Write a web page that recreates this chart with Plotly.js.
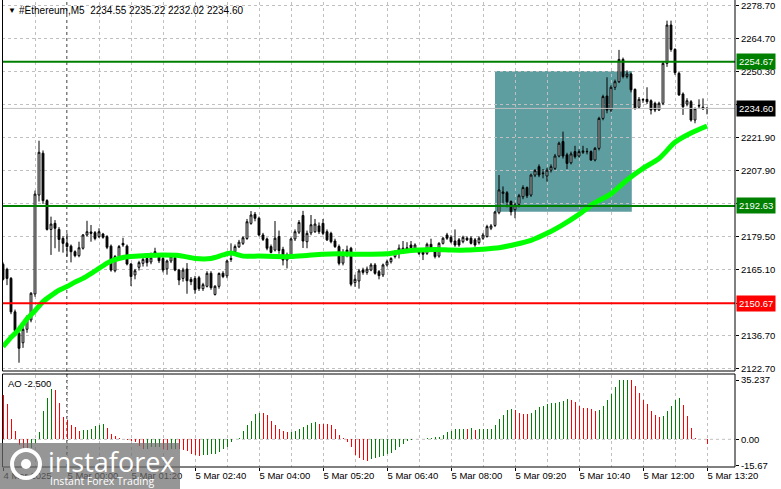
<!DOCTYPE html>
<html><head><meta charset="utf-8">
<script src="https://cdn.plot.ly/plotly-3.0.1.min.js"></script>
<style>html,body{margin:0;padding:0;background:#fff;}#chart{width:781px;height:489px;}</style>
</head><body><div id="chart"></div>
<script>
// ---- data (bar index 0 = 4 Mar 22:40, M5 bars) ----
const openP = [2167.5,2165.3,2161.4,2147.0,2137.8,2133.7,2139.5,2143.5,2154.7,2197.3,2215.3,2194.9,2182.5,2185.1,2182.5,2178.6,2176.5,2175.3,2172.9,2171.2,
2174.4,2180.1,2181.4,2181.1,2179.4,2180.5,2179.4,2175.3,2164.7,2170.8,2176.5,2175.3,2167.6,2162.9,2166.2,2167.9,2170.0,2168.5,2172.9,2171.0,
2170.0,2165.5,2168.9,2170.3,2165.0,2161.4,2165.4,2161.0,2161.4,2161.7,2157.0,2158.0,2163.6,2154.5,2158.0,2163.6,2162.5,2170.0,2172.9,2175.0,
2176.5,2178.6,2185.1,2189.0,2187.3,2180.1,2178.4,2175.1,2173.6,2179.4,2173.9,2169.3,2171.2,2178.4,2181.3,2188.5,2177.2,2181.0,2181.5,2184.0,
2185.1,2181.5,2180.8,2177.5,2175.1,2168.0,2173.6,2174.4,2159.6,2160.3,2165.0,2164.0,2165.0,2167.2,2164.3,2162.9,2167.2,2168.6,2170.8,2172.5,
2172.6,2174.6,2175.8,2174.4,2173.6,2172.9,2172.2,2176.1,2172.9,2171.0,2176.5,2180.1,2179.1,2177.5,2178.0,2177.2,2178.7,2178.7,2178.0,2176.8,
2178.7,2179.4,2183.0,2184.2,2189.7,2198.0,2198.3,2194.5,2191.0,2193.3,2196.6,2200.5,2197.3,2205.9,2209.5,2206.5,2205.5,2208.0,2208.8,2214.1,
2220.3,2214.6,2211.2,2216.0,2214.1,2215.7,2216.1,2216.0,2212.4,2217.4,2230.3,2239.9,2233.9,2243.7,2246.1,2255.7,2248.3,2249.4,2242.8,2235.1,
2238.2,2238.5,2237.9,2236.8,2233.9,2236.8,2254.0,2270.5,2260.0,2249.7,2240.8,2236.5,2237.5,2229.6,2235.6,2235.1,2234.55];
const highP = [2168.3,2166.0,2162.0,2148.0,2139.0,2140.5,2145.5,2155.5,2199.2,2220.7,2216.5,2195.5,2188.0,2186.5,2183.5,2179.5,2180.8,2176.0,2173.5,2177.2,
2180.5,2186.2,2184.4,2181.8,2183.0,2181.0,2180.0,2176.0,2171.5,2175.8,2178.9,2176.0,2168.0,2165.5,2169.0,2170.8,2171.0,2172.5,2174.6,2172.0,
2171.0,2169.5,2171.5,2171.0,2165.5,2166.0,2168.0,2162.0,2162.5,2162.5,2159.5,2164.5,2164.5,2158.5,2164.0,2164.5,2169.5,2176.5,2176.0,2178.0,
2179.5,2187.0,2190.4,2190.0,2188.0,2181.0,2179.0,2176.0,2186.1,2182.0,2175.0,2172.5,2179.0,2182.5,2186.5,2190.5,2182.0,2188.7,2187.0,2185.5,
2187.0,2182.5,2181.5,2178.5,2176.0,2174.0,2175.5,2175.0,2163.0,2165.5,2166.0,2166.5,2168.0,2168.0,2165.0,2167.8,2169.5,2170.5,2173.5,2176.0,
2177.5,2177.0,2177.5,2176.5,2174.5,2173.5,2176.8,2178.5,2173.5,2177.0,2179.2,2181.0,2180.0,2182.5,2178.8,2179.8,2179.5,2179.5,2178.8,2179.5,
2181.0,2184.5,2184.8,2190.5,2205.9,2201.0,2199.0,2195.0,2194.0,2197.8,2201.5,2201.0,2206.5,2208.5,2210.5,2208.5,2209.0,2210.5,2215.0,2220.3,
2224.6,2215.5,2216.0,2218.5,2217.0,2218.5,2217.5,2216.5,2218.0,2231.0,2240.5,2248.0,2244.5,2247.0,2259.8,2256.5,2251.0,2250.0,2243.2,2239.5,
2239.0,2243.7,2238.5,2237.5,2237.5,2255.0,2272.4,2272.4,2260.5,2250.5,2241.5,2239.0,2238.2,2235.0,2238.5,2238.9,2235.22];
const lowP = [2160.5,2158.5,2146.0,2136.5,2125.1,2131.5,2138.0,2142.5,2153.5,2194.5,2193.5,2182.0,2171.5,2174.4,2172.9,2172.5,2170.8,2168.3,2170.5,2170.5,
2173.8,2179.5,2177.2,2177.8,2178.8,2178.5,2174.0,2164.3,2164.0,2170.0,2175.0,2167.0,2158.1,2161.0,2164.8,2166.5,2166.5,2167.5,2170.5,2168.0,
2164.0,2163.0,2168.0,2164.5,2158.5,2160.0,2154.8,2158.5,2154.8,2156.0,2156.0,2157.5,2156.5,2154.0,2157.0,2161.5,2161.5,2168.5,2172.0,2174.5,
2175.8,2178.0,2184.5,2186.0,2179.5,2177.5,2173.5,2172.2,2173.0,2172.0,2167.0,2165.7,2170.5,2177.5,2180.5,2174.5,2174.4,2180.0,2181.0,2180.5,
2180.0,2177.5,2176.5,2174.5,2167.0,2167.0,2170.5,2158.0,2157.8,2157.0,2163.0,2163.0,2164.5,2163.0,2161.0,2162.0,2166.5,2167.8,2170.0,2170.0,
2172.0,2172.5,2174.0,2173.5,2171.5,2169.3,2171.5,2173.8,2170.0,2170.3,2176.0,2178.0,2176.5,2175.0,2175.0,2176.5,2177.5,2176.0,2175.0,2176.0,
2178.0,2179.0,2182.2,2183.5,2189.0,2193.7,2192.0,2188.5,2187.3,2192.0,2195.5,2196.0,2196.5,2205.0,2205.0,2204.5,2203.1,2207.0,2208.0,2213.5,
2213.0,2208.5,2210.5,2213.0,2213.5,2215.0,2214.8,2212.0,2211.8,2216.5,2229.5,2232.5,2233.0,2242.5,2245.5,2247.5,2247.5,2241.5,2234.0,2234.5,
2237.0,2236.5,2232.0,2233.0,2233.5,2236.0,2252.5,2259.0,2249.0,2240.0,2231.8,2235.5,2228.9,2228.2,2234.5,2234.0,2232.02];
const closeP = [2161.0,2161.4,2147.0,2139.0,2131.3,2139.5,2144.9,2155.0,2197.7,2215.7,2194.9,2182.5,2184.8,2183.0,2178.2,2176.5,2175.1,2172.9,2171.2,2174.6,
2180.1,2181.5,2180.8,2178.6,2181.5,2179.1,2174.8,2165.0,2170.8,2175.1,2175.8,2167.6,2162.2,2164.7,2168.2,2169.6,2168.2,2170.2,2171.2,2169.0,
2165.0,2168.9,2170.8,2165.0,2160.7,2165.0,2160.4,2160.0,2156.5,2157.0,2158.7,2163.6,2157.4,2158.0,2163.5,2162.2,2168.9,2169.6,2175.1,2177.0,
2178.9,2185.8,2188.7,2187.3,2180.1,2178.2,2174.4,2172.6,2178.7,2173.4,2169.3,2171.5,2178.4,2181.5,2185.5,2177.5,2180.8,2184.5,2184.8,2181.5,
2180.8,2178.0,2177.2,2175.1,2167.9,2171.5,2172.0,2158.9,2161.0,2164.6,2164.0,2165.4,2167.2,2163.6,2162.6,2167.2,2168.6,2170.0,2172.9,2174.4,
2174.4,2173.2,2174.6,2175.8,2172.2,2171.8,2176.1,2174.4,2170.8,2176.5,2178.7,2178.7,2177.2,2175.8,2175.8,2179.1,2178.0,2176.5,2175.8,2178.7,
2180.1,2183.7,2184.0,2190.0,2199.5,2198.6,2194.4,2190.1,2193.0,2197.0,2200.5,2197.0,2205.9,2207.8,2205.9,2206.7,2208.0,2209.5,2214.1,2219.6,
2214.1,2210.9,2215.0,2213.8,2216.0,2216.2,2216.0,2212.4,2217.4,2230.3,2239.7,2233.9,2243.7,2246.1,2255.7,2248.3,2249.4,2242.6,2234.6,2238.5,
2238.4,2237.5,2233.9,2233.9,2236.8,2254.0,2270.5,2260.0,2250.0,2240.4,2235.3,2237.9,2229.6,2234.5,2235.8,2234.4,2234.60];

// Awesome Oscillator, one value per bar
const aoValues = [26.3,21.0,12.1,5.1,-3.5,-5.5,-6.5,-5.0,-2.0,4.5,16.8,24.6,29.7,29.1,21.4,13.5,11.5,8.3,7.1,5.1,
5.3,5.6,6.3,7.7,8.5,8.8,6.5,3.2,1.8,0.8,0.1,-0.2,-0.8,-1.5,-4.0,-6.0,-5.5,-4.8,-4.5,-4.3,
-5.5,-6.5,-6.0,-5.5,-5.8,-6.5,-7.0,-8.5,-9.5,-9.7,-9.5,-9.3,-9.0,-8.5,-7.5,-5.5,-4.5,-1.5,0.3,1.0,
4.7,8.5,11.1,15.2,15.8,15.7,14.5,10.7,8.3,6.1,5.1,4.1,4.3,5.1,6.3,7.3,8.5,9.7,10.3,9.3,
9.1,8.9,8.5,6.1,2.8,0.5,-1.5,-4.5,-9.5,-10.9,-12.3,-12.9,-11.5,-10.9,-10.5,-10.0,-9.0,-8.3,-6.3,-4.8,
-2.8,-1.0,-0.3,0.0,0.2,0.4,0.6,0.9,1.2,1.6,2.6,4.3,4.9,6.1,6.3,6.4,6.2,6.7,5.7,6.0,
6.1,6.2,6.4,8.5,11.9,14.3,17.2,18.0,17.6,15.6,15.2,15.0,15.6,17.2,19.4,20.0,20.8,21.4,21.6,22.0,
23.0,23.8,23.4,22.0,19.6,18.8,18.6,17.8,17.0,17.6,19.8,23.4,27.1,30.9,35.0,35.1,35.237,35.0,31.7,27.7,
23.6,21.2,16.6,14.3,13.3,13.9,16.6,19.8,23.6,24.6,20.6,13.7,6.5,1.0,0.4,0.2,-2.5];

// moving average read at sampled bars
const maBars = [0,2,4,6,8,10,12,14,16,18,20,22,24,26,28,30,32,36,40,44,48,52,55,57,60,64,68,72,76,80,84,88,92,96,100,104,108,112,116,120,124,128,132,136,140,144,148,152,156,160,164,168,172,176];
const maValues = [2132.0,2136.0,2139.5,2144.0,2147.5,2151.4,2154.0,2156.3,2157.9,2159.8,2161.4,2163.5,2165.7,2168.0,2169.5,2170.4,2170.8,2171.3,2171.5,2171.3,2170.0,2170.0,2171.5,2172.3,2171.0,2171.0,2170.8,2170.8,2171.3,2171.8,2172.0,2171.8,2171.8,2172.0,2173.0,2173.6,2173.8,2173.6,2173.6,2174.0,2174.6,2176.0,2177.8,2180.8,2184.6,2189.0,2194.0,2197.8,2203.8,2208.8,2213.0,2220.0,2224.0,2227.0];

const xTickBars = [0,16,32,48,64,80,96,112,128,144,160,176];
const xTickLabels = ['4 Mar 2025','5 Mar 00:00','5 Mar 01:20','5 Mar 02:40','5 Mar 04:00','5 Mar 05:20','5 Mar 06:40','5 Mar 08:00','5 Mar 09:20','5 Mar 10:40','5 Mar 12:00','5 Mar 13:20'];
const priceTicks = [2278.70,2264.70,2250.30,2236.30,2221.90,2207.90,2193.50,2179.50,2165.10,2150.70,2136.70,2122.70];
const priceTickLabels = ['2278.70','2264.70','2250.30','','2221.90','2207.90','','2179.50','2165.10','','2136.70','2122.70'];
const aoTicks = [35.237,0,-15.67];
const aoTickLabels = ['35.237','0.00','-15.67'];
const greenLevels = [2254.67,2192.63];
const redLevels = [2150.67];
const zoneBars = [123,157.2];
const zonePrices = [2190.13,2250.71];
const daySeparatorBar = 16;
const symbolName = '#Ethereum,M5';

// ---- build ----
const n = closeP.length;
const idx = closeP.map((_, i) => i);
const last = n - 1;
const lastPrice = closeP[last];
const aoColors = aoValues.map((v, i) => (i > 0 && v > aoValues[i-1]) ? '#008000' : '#ff0000');
const gridBars = [];
for (let b = 8; b <= 176; b += 8) gridBars.push(b);

const W = 781, H = 489, L = 2, R = 46, T = 2, B = 22;
const PW = W - L - R, PH = H - T - B;
const px = x => (x - L) / PW;
const py = y => (H - B - y) / PH;
const mainDom = [py(371), 1];
const aoDom = [0, py(375)];
const FONT = 'Liberation Sans, Arial, sans-serif';

const traces = [
  {type:'candlestick', x:idx, open:openP, high:highP, low:lowP, close:closeP,
   xaxis:'x', yaxis:'y2', whiskerwidth:0,
   increasing:{line:{color:'#000000', width:1}, fillcolor:'#ffffff'},
   decreasing:{line:{color:'#000000', width:1}, fillcolor:'#000000'},
   hoverinfo:'skip', showlegend:false},
  {type:'scatter', mode:'lines', x:maBars, y:maValues, xaxis:'x', yaxis:'y2',
   line:{color:'#00ff00', width:5, shape:'spline', smoothing:0.6}, hoverinfo:'skip', showlegend:false},
  {type:'bar', x:idx, y:aoValues, xaxis:'x', yaxis:'y', width:0.25,
   marker:{color:aoColors, line:{width:0}}, hoverinfo:'skip', showlegend:false}
];

const gridColor = '#c0c0c0';
const shapes = [];
shapes.push({type:'rect', xref:'x', yref:'y2', x0:zoneBars[0], x1:zoneBars[1], y0:zonePrices[0], y1:zonePrices[1],
  fillcolor:'#5f9ea0', line:{width:0}, layer:'below'});
shapes.push({type:'line', xref:'x', yref:'paper', x0:daySeparatorBar, x1:daySeparatorBar, y0:0, y1:1,
  line:{color:'#000000', width:1, dash:'3px,3px'}, layer:'below'});
shapes.push({type:'line', xref:'paper', yref:'y', x0:0, x1:1, y0:0, y1:0,
  line:{color:gridColor, width:1, dash:'3px,3px'}, layer:'below'});
shapes.push({type:'line', xref:'paper', yref:'y2', x0:0, x1:1, y0:lastPrice, y1:lastPrice,
  line:{color:'#c0c0c0', width:1}, layer:'above'});
greenLevels.forEach(v => shapes.push({type:'line', xref:'paper', yref:'y2', x0:0, x1:1, y0:v, y1:v,
  line:{color:'#008000', width:2}, layer:'above'}));
redLevels.forEach(v => shapes.push({type:'line', xref:'paper', yref:'y2', x0:0, x1:1, y0:v, y1:v,
  line:{color:'#ff0000', width:2}, layer:'above'}));
const blk = {color:'#000000', width:1};
shapes.push({type:'line', xref:'paper', yref:'paper', x0:px(2.5), x1:px(2.5), y0:py(371), y1:py(0), line:blk, layer:'above'});
shapes.push({type:'line', xref:'paper', yref:'paper', x0:px(735), x1:px(735), y0:py(371), y1:py(0), line:blk, layer:'above'});
shapes.push({type:'line', xref:'paper', yref:'paper', x0:px(2.5), x1:px(735), y0:py(371), y1:py(371), line:blk, layer:'above'});
shapes.push({type:'rect', xref:'paper', yref:'paper', x0:px(2.5), x1:px(735), y0:py(467), y1:py(374), line:blk, layer:'above'});
// logo backdrop
shapes.push({type:'rect', xref:'paper', yref:'paper', x0:px(0), x1:px(180), y0:py(489), y1:py(443),
  fillcolor:'rgba(110,110,110,0.72)', line:{width:0}, layer:'above'});
shapes.push({type:'circle', xref:'paper', yref:'paper', x0:px(12), x1:px(40), y0:py(478), y1:py(450),
  fillcolor:'rgba(0,0,0,0)', line:{color:'#ffffff', width:4}, layer:'above'});
shapes.push({type:'circle', xref:'paper', yref:'paper', x0:px(21), x1:px(31), y0:py(469), y1:py(459),
  fillcolor:'#ffffff', line:{width:0}, layer:'above'});

const annotations = [];
annotations.push({xref:'paper', yref:'paper', x:px(6), y:py(10), xanchor:'left', yanchor:'middle', showarrow:false,
  text:'▼', font:{family:FONT, size:8, color:'#000'}});
annotations.push({xref:'paper', yref:'paper', x:px(17), y:py(10), xanchor:'left', yanchor:'middle', showarrow:false,
  text:symbolName + '  ' + [openP[last], highP[last], lowP[last], closeP[last]].map(v => v.toFixed(2)).join(' '),
  font:{family:FONT, size:10, color:'#000'}});
annotations.push({xref:'paper', yref:'paper', x:px(6), y:py(383), xanchor:'left', yanchor:'middle', showarrow:false,
  text:'AO ' + aoValues[last].toFixed(3), font:{family:FONT, size:9.5, color:'#000'}});
const levelBox = (v, bg) => ({xref:'paper', yref:'y2', x:1, y:v, xanchor:'left', yanchor:'middle', xshift:1,
  showarrow:false, text:v.toFixed(2), bgcolor:bg, borderpad:2, font:{family:FONT, size:9.5, color:'#ffffff'}});
greenLevels.forEach(v => annotations.push(levelBox(v, '#008000')));
redLevels.forEach(v => annotations.push(levelBox(v, '#ff0000')));
annotations.push(levelBox(lastPrice, '#000000'));
annotations.push({xref:'paper', yref:'paper', x:px(46), y:py(461), xanchor:'left', yanchor:'middle', showarrow:false,
  text:'instaforex', font:{family:'Open Sans, sans-serif', size:27, color:'#ffffff'}});
annotations.push({xref:'paper', yref:'paper', x:px(48), y:py(481), xanchor:'left', yanchor:'middle', showarrow:false,
  text:'Instant Forex Trading', font:{family:'Open Sans, sans-serif', size:10.5, color:'#ffffff'}});

const layout = {
  width:W, height:H, margin:{l:L, r:R, t:T, b:B}, paper_bgcolor:'#ffffff', plot_bgcolor:'#ffffff',
  showlegend:false, hovermode:false, bargap:0, boxgap:0.35,
  font:{family:FONT, size:9.5, color:'#000000'},
  xaxis:{domain:[0,1], anchor:'y', range:[-0.25,183], rangeslider:{visible:false}, fixedrange:true,
    tickmode:'array', tickvals:xTickBars, ticktext:xTickLabels, ticklabelposition:'outside right',
    ticks:'outside', ticklen:3, tickcolor:'#000', showline:false, zeroline:false,
    showgrid:true, gridcolor:gridColor, griddash:'3px,3px', gridwidth:1,
    minor:{tickmode:'array', tickvals:gridBars, showgrid:true, gridcolor:gridColor, griddash:'3px,3px', ticks:''},
    tickfont:{family:FONT, size:9.5, color:'#000'}},
  yaxis2:{domain:mainDom, anchor:'x', side:'right', range:[2121.53,2280.42], fixedrange:true,
    tickmode:'array', tickvals:priceTicks, ticktext:priceTickLabels,
    ticks:'outside', ticklen:3, tickcolor:'#000', showgrid:true, gridcolor:gridColor, griddash:'3px,3px',
    zeroline:false, showline:false, tickfont:{family:FONT, size:9.5, color:'#000'}},
  yaxis:{domain:aoDom, anchor:'x', side:'right', range:[-16.46,38.21], fixedrange:true,
    tickmode:'array', tickvals:aoTicks, ticktext:aoTickLabels,
    ticks:'outside', ticklen:3, tickcolor:'#000', showgrid:false, zeroline:false, showline:false,
    tickfont:{family:FONT, size:9.5, color:'#000'}},
  shapes:shapes, annotations:annotations
};

Plotly.newPlot('chart', traces, layout, {staticPlot:true, displayModeBar:false});
</script></body></html>
